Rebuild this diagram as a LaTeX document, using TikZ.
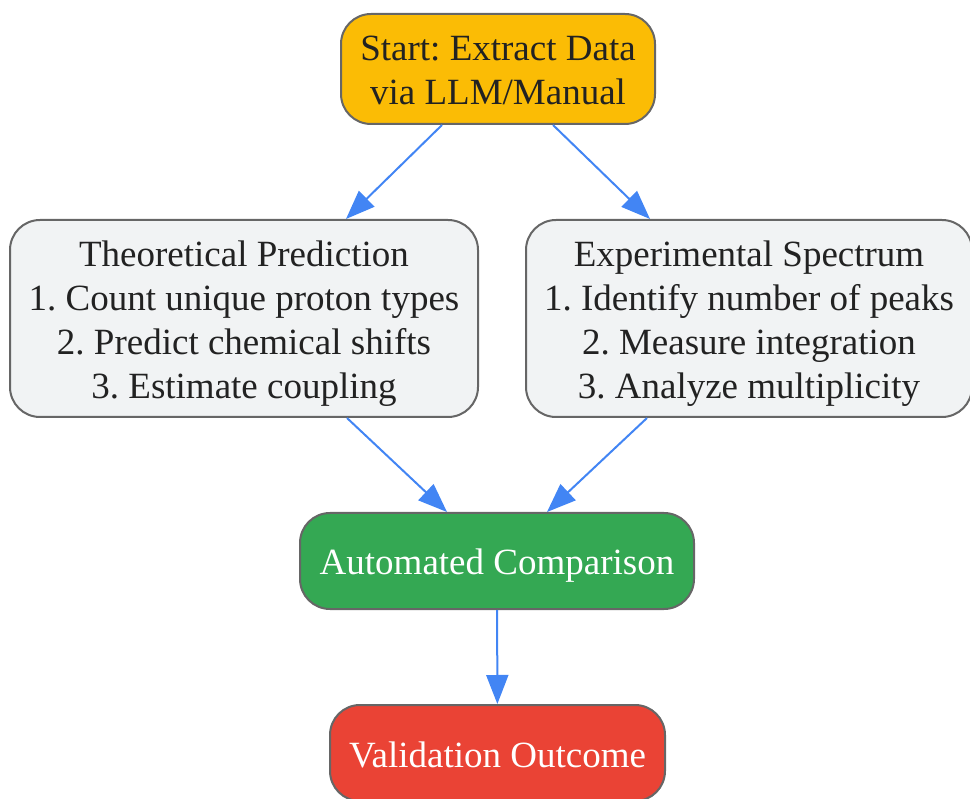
\documentclass[tikz,border=0pt]{standalone}
\usepackage{fontspec}
\setmainfont{Liberation Serif}
\usetikzlibrary{arrows.meta,calc}

\definecolor{startfill}{HTML}{FBBC05}
\definecolor{stepfill}{HTML}{F1F3F4}
\definecolor{cmpfill}{HTML}{34A853}
\definecolor{outfill}{HTML}{EA4335}
\definecolor{boxline}{HTML}{666666}
\definecolor{flowline}{HTML}{4285F4}
\definecolor{inktext}{HTML}{222222}

\newcommand\ls{\rule[-8pt]{0pt}{44pt}}

\tikzset{
  box/.style={draw=boxline,line width=2pt,rounded corners=30pt,align=center,
    text=inktext,font=\fontsize{37}{44}\selectfont\frenchspacing,inner sep=0pt},
  flow/.style={draw=flowline,line width=2pt,-{Triangle[length=29pt,width=22pt]}}
}

\begin{document}
\begin{tikzpicture}[x=1pt,y=-1pt]
\useasboundingbox (0,0) rectangle (970,799);
\node[box,fill=startfill,minimum width=314pt,minimum height=110pt] (start) at (498,69) {\ls Start: Extract Data\\via LLM/Manual\ls};
\node[box,fill=stepfill,minimum width=468pt,minimum height=197pt] (theory) at (244,318.5) {\ls Theoretical Prediction\\1. Count unique proton types\\2. Predict chemical shifts\\3. Estimate coupling\ls};
\node[box,fill=stepfill,minimum width=446pt,minimum height=197pt] (exper) at (749,318.5) {\ls Experimental Spectrum\\1. Identify number of peaks\\2. Measure integration\\3. Analyze multiplicity\ls};
\node[box,fill=cmpfill,text=white,minimum width=394pt,minimum height=96pt] (cmp) at (497,561) {\ls Automated Comparison\ls};
\node[box,fill=outfill,text=white,minimum width=335pt,minimum height=96pt] (outcome) at (497.5,753) {\ls Validation Outcome\ls};
\draw[flow] ([xshift=-56pt]start.south) -- ([xshift=102pt]theory.north);
\draw[flow] ([xshift=55pt]start.south) -- ([xshift=-99pt]exper.north);
\draw[flow] ([xshift=103pt]theory.south) -- ([xshift=-50pt]cmp.north);
\draw[flow] ([xshift=-102pt]exper.south) -- ([xshift=50pt]cmp.north);
\draw[flow] (cmp) -- (outcome);
\end{tikzpicture}
\end{document}
